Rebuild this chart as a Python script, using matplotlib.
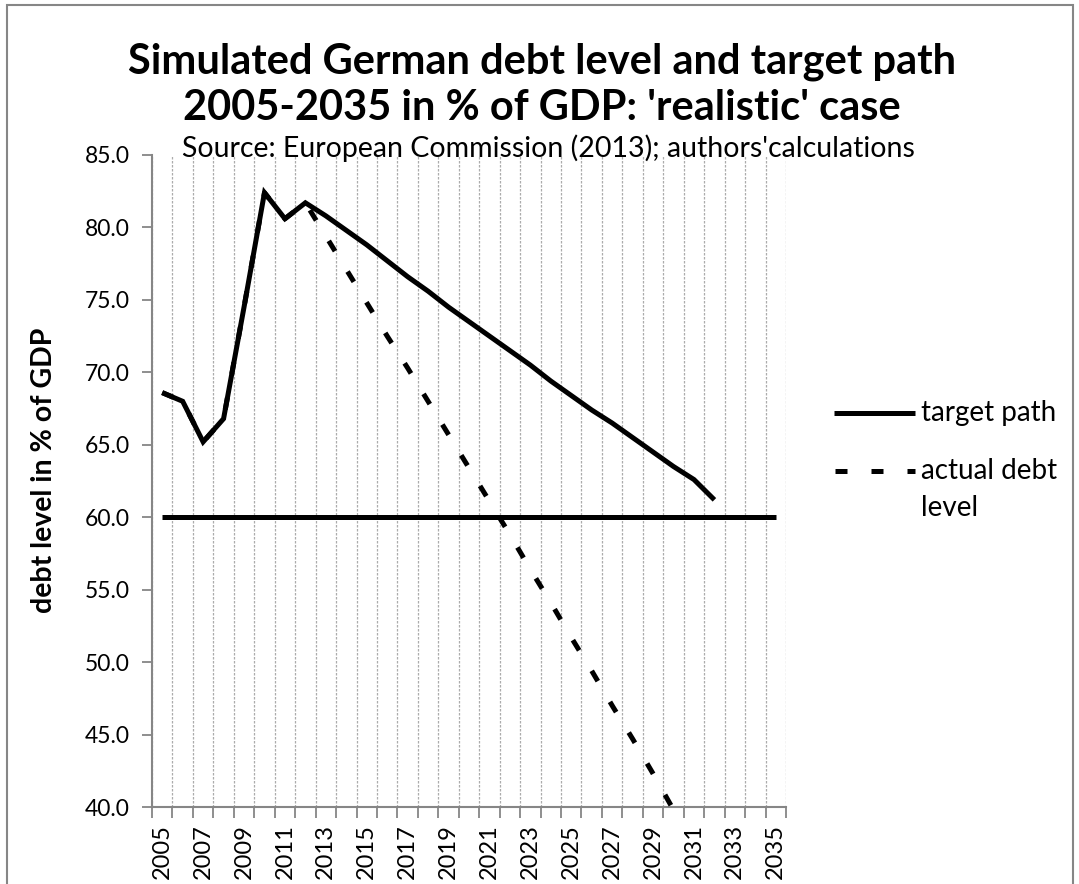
import matplotlib
matplotlib.use("Agg")
import matplotlib.pyplot as plt
from matplotlib.lines import Line2D
from matplotlib.patches import Rectangle

# ---------------- data ----------------
years_axis = list(range(2005, 2036))
target_years = list(range(2005, 2033))
target_path = [68.6, 68.0, 65.2, 66.8, 74.5, 82.4, 80.6, 81.7,
               80.8, 79.8, 78.8, 77.7, 76.6, 75.6, 74.5, 73.5, 72.5, 71.5,
               70.5, 69.4, 68.4, 67.4, 66.5, 65.5, 64.5, 63.5, 62.6, 61.2]
actual_years = list(range(2005, 2031))
actual_debt = [68.6, 68.0, 65.2, 66.8, 74.5, 82.4, 80.6, 81.7,
               79.4, 77.1, 74.8, 72.5, 70.3, 68.0, 65.7, 63.4, 61.1, 58.8,
               56.4, 54.1, 51.7, 49.4, 47.0, 44.7, 42.3, 39.8]
reference_level = [60.0] * len(years_axis)
y_ticks = [40, 45, 50, 55, 60, 65, 70, 75, 80, 85]
x_label_years = list(range(2005, 2036, 2))

title_line1 = "Simulated German debt level and target path"
title_line2 = "2005-2035 in % of GDP: 'realistic' case"
subtitle = "Source: European Commission (2013); authors'calculations"
ylabel = "debt level in % of GDP"
legend_labels = ["target path", "actual debt", "level"]

# ---------------- figure ----------------
W, H = 1079, 884
plt.rcParams['font.family'] = ['Lato', 'DejaVu Sans']
fig = plt.figure(figsize=(W / 100, H / 100), dpi=100)

def fx(px):
    return px / W

def fy(py):
    return 1 - py / H

left, right, top, bottom = 152, 786, 155, 807
ax = fig.add_axes([fx(left), fy(bottom), fx(right) - fx(left), fy(top) - fy(bottom)])

gray = '#868686'
lw = 3.6
tick_fs = 16.5
legend_fs = 20

ax.plot(actual_years, actual_debt, color='black', lw=lw,
        linestyle=(0, (2.4, 4.8)), dash_capstyle='butt', zorder=3)
ax.plot(target_years, target_path, color='black', lw=lw,
        solid_capstyle='butt', solid_joinstyle='miter', zorder=4)
ax.plot(years_axis, reference_level, color='black', lw=lw,
        solid_capstyle='butt', zorder=4)

ax.set_xlim(2004.5, 2035.5)
ax.set_ylim(40, 85)

# category boundaries: ticks + grid
boundaries = [y - 0.5 for y in years_axis] + [years_axis[-1] + 0.5]
ax.set_xticks(boundaries)
ax.set_xticklabels([])
ax.set_xticks(x_label_years, minor=True)
ax.set_xticklabels([str(y) for y in x_label_years], minor=True, rotation=90,
                   fontsize=17, va='top', ha='center')
ax.tick_params(axis='x', which='major', length=8, width=1.3, color=gray, direction='out')
ax.tick_params(axis='x', which='minor', length=0, pad=12.5)
ax.grid(axis='x', which='major', color='#acacac', lw=0.9, linestyle=(0, (2, 1.2)))

ax.set_yticks(y_ticks)
ax.set_yticklabels([f"{v:.1f}" for v in y_ticks], fontsize=tick_fs)
ax.tick_params(axis='y', length=7, width=1.3, color=gray, direction='out', pad=9)

for s in ['top', 'right']:
    ax.spines[s].set_visible(False)
for s in ['left', 'bottom']:
    ax.spines[s].set_color(gray)
    ax.spines[s].set_linewidth(1.5)
ax.set_axisbelow(True)

# titles
fig.text(0.502, fy(62), title_line1, ha='center', va='center', fontsize=30, fontweight='bold')
fig.text(0.502, fy(108), title_line2, ha='center', va='center', fontsize=30, fontweight='bold')
fig.text(0.508, fy(148), subtitle, ha='center', va='center', fontsize=20.5)
fig.text(fx(44), fy(470), ylabel, ha='center', va='center', rotation=90,
         fontsize=20.5, fontweight='bold')

# legend (drawn manually)
fig.add_artist(Line2D([fx(834), fx(915)], [fy(413), fy(413)], color='black', lw=lw,
                      solid_capstyle='butt'))
fig.text(fx(921), fy(413), legend_labels[0], ha='left', va='center', fontsize=legend_fs)
fig.add_artist(Line2D([fx(835), fx(915)], [fy(471), fy(471)], color='black', lw=lw,
                      linestyle=(0, (2.4, 4.8)), dash_capstyle='butt'))
fig.text(fx(921), fy(471), legend_labels[1], ha='left', va='center', fontsize=legend_fs)
fig.text(fx(921), fy(508), legend_labels[2], ha='left', va='center', fontsize=legend_fs)

# outer frame
fig.add_artist(Rectangle((fx(7), -0.05), fx(1073) - fx(7), fy(5) + 0.05,
                         transform=fig.transFigure, fill=False, edgecolor=gray, lw=1.5))

fig.savefig("out.png", dpi=100)
